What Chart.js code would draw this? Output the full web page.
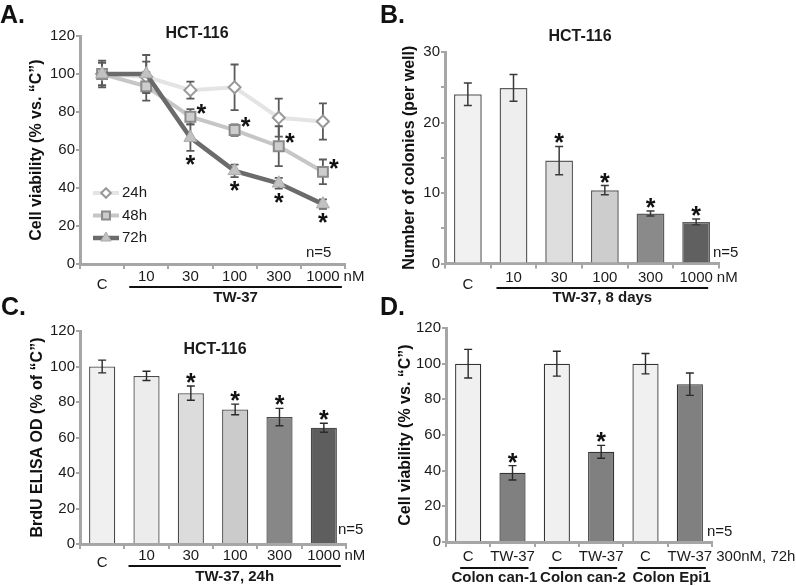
<!DOCTYPE html>
<html>
<head>
<meta charset="utf-8">
<script src="https://cdn.jsdelivr.net/npm/chart.js@4/dist/chart.umd.min.js"></script>
<style>
  body { margin: 0; background: #fff; }
  #fig { position: relative; width: 796px; height: 586px; overflow: hidden; }
  canvas { position: absolute; }
  .tag { position: absolute; font: bold 25px 'Liberation Sans', Arial, sans-serif; line-height: 25px; color: #111; }
</style>
</head>
<body>
<div id="fig">
  <canvas id="chartA" width="400" height="310" style="left:0;top:0"></canvas>
  <canvas id="chartB" width="404" height="310" style="left:392px;top:0"></canvas>
  <canvas id="chartC" width="400" height="296" style="left:0;top:290px"></canvas>
  <canvas id="chartD" width="404" height="296" style="left:392px;top:290px"></canvas>
  <div class="tag" style="left:0;top:2px">A.</div>
  <div class="tag" style="left:380px;top:2px">B.</div>
  <div class="tag" style="left:1px;top:294px">C.</div>
  <div class="tag" style="left:380px;top:294px">D.</div>
</div>
<script>
// dose axis shared by A, B, C
const doseLabels = ["C", "10", "30", "100", "300", "1000"];

// A: cell viability over time
const viab24h = [100, 98.5, 91.5, 93, 77, 75];
const err24h  = [6, 8, 4.5, 12, 10, 9.5];
const viab48h = [100, 93.5, 77.5, 70.5, 62, 48.5];
const err48h  = [7, 7.5, 4, 3, 10.5, 6.5];
const viab72h = [100, 100, 66.5, 49, 42.5, 31.5];
const err72h  = [6, 10, 7, 3.3, 2.8, 2.5];
const sig48h  = [0, 0, 1, 1, 1, 1];
const sig72h  = [0, 0, 1, 1, 1, 1];

// B: colony counts, 8 days
const colonies    = [24, 24.9, 14.6, 10.4, 7.1, 5.9];
const coloniesErr = [1.6, 1.9, 2, 0.65, 0.35, 0.4];
const coloniesSig = [0, 0, 1, 1, 1, 1];

// C: BrdU ELISA, 24h
const brdu    = [100, 94.7, 85, 75.8, 71.5, 65.5];
const brduErr = [3.6, 2.6, 4, 3, 4.9, 2.5];
const brduSig = [0, 0, 1, 1, 1, 1];

// D: 300nM, 72h in three cell lines
const lineLabels = ["C", "TW-37", "C", "TW-37", "C", "TW-37"];
const cellLines  = ["Colon can-1", "Colon can-2", "Colon Epi1"];
const viab300    = [100, 38.8, 100, 50.6, 100, 88.5];
const viab300Err = [8, 4, 7, 3.6, 5.7, 6.3];
const viab300Sig = [0, 1, 0, 1, 0, 0];

const FONT = "'Liberation Sans', Arial, sans-serif";
Chart.defaults.font.family = FONT;
Chart.defaults.color = "#1a1a1a";
Chart.defaults.animation = false;

function drawStar(ctx, cx, cy) {
    ctx.font = "bold 25px " + FONT;
    ctx.textAlign = "center";
    ctx.textBaseline = "alphabetic";
    const m = ctx.measureText("*");
    ctx.fillText("*", cx, cy + (m.actualBoundingBoxAscent - m.actualBoundingBoxDescent) / 2);
}

// error bars + significance stars, read from dataset.errors / dataset.sig
function errorLayer(chart, o) {
    const {ctx} = chart;
    const y = chart.scales.y;
    ctx.save();
    chart.data.datasets.forEach((ds, di) => {
        if (!ds.errors) return;
        const meta = chart.getDatasetMeta(di);
        meta.data.forEach((el, i) => {
            const v = ds.data[i], e = ds.errors[i];
            const top = y.getPixelForValue(v + e);
            const bot = y.getPixelForValue(v - e);
            ctx.strokeStyle = o.color;
            ctx.lineWidth = o.width;
            ctx.beginPath();
            ctx.moveTo(el.x, top); ctx.lineTo(el.x, bot);
            ctx.moveTo(el.x - o.cap, top); ctx.lineTo(el.x + o.cap, top);
            ctx.moveTo(el.x - o.cap, bot); ctx.lineTo(el.x + o.cap, bot);
            ctx.stroke();
        });
    });
    ctx.restore();
}

function starLayer(chart) {
    const {ctx} = chart;
    const y = chart.scales.y;
    ctx.save();
    ctx.fillStyle = "#111";
    chart.data.datasets.forEach((ds, di) => {
        if (!ds.sig) return;
        const meta = chart.getDatasetMeta(di);
        meta.data.forEach((el, i) => {
            if (!ds.sig[i]) return;
            const v = ds.data[i], e = ds.errors[i];
            if (ds.starPos === "right") {
                drawStar(ctx, el.x + 11, el.y - 8);
            } else if (ds.starPos === "below") {
                drawStar(ctx, el.x, y.getPixelForValue(v - e) + 9);
            } else {
                drawStar(ctx, el.x, y.getPixelForValue(v + e) - 8);
            }
        });
    });
    ctx.restore();
}

const errorBars = {
    id: "errorBars",
    beforeDatasetsDraw(chart, args, o) {
        if (o.behind) errorLayer(chart, o);
    },
    afterDatasetsDraw(chart, args, o) {
        if (!o.behind) errorLayer(chart, o);
        starLayer(chart);
    }
};

const panelText = {
    id: "panelText",
    afterDraw(chart, args, o) {
        const {ctx, chartArea: area} = chart;
        const x = chart.scales.x;
        const labels = chart.data.labels;
        ctx.save();
        ctx.fillStyle = "#1a1a1a";
        ctx.textBaseline = "middle";

        ctx.font = "15px " + FONT;
        ctx.textAlign = "center";
        labels.forEach((lab, i) => {
            const low = (o.lowLabels || []).includes(lab);
            ctx.fillText(lab, x.getPixelForValue(i), area.bottom + (low ? o.lowY : o.labelY));
        });
        if (o.suffix) {
            const last = labels.length - 1;
            const w = ctx.measureText(labels[last]).width;
            ctx.textAlign = "left";
            ctx.fillText(o.suffix, x.getPixelForValue(last) + w / 2 + 4, area.bottom + o.labelY);
        }

        (o.brackets || []).forEach(b => {
            const x0 = x.getPixelForValue(b.from) + b.dx0;
            const x1 = x.getPixelForValue(b.to) + b.dx1;
            ctx.strokeStyle = "#111";
            ctx.lineWidth = 2;
            ctx.beginPath();
            ctx.moveTo(x0, area.bottom + b.y);
            ctx.lineTo(x1, area.bottom + b.y);
            ctx.stroke();
            ctx.font = "bold 15px " + FONT;
            ctx.textAlign = "center";
            ctx.fillText(b.text, (x0 + x1) / 2, area.bottom + b.textY);
        });

        if (o.title) {
            ctx.font = "bold 16px " + FONT;
            ctx.textAlign = "center";
            ctx.fillText(o.title.text, o.title.x, o.title.y);
        }
        if (o.note) {
            ctx.font = "15px " + FONT;
            ctx.textAlign = "left";
            ctx.fillText(o.note.text, o.note.x, o.note.y);
        }

        if (o.legend) {
            const lg = o.legend;
            chart.data.datasets.forEach((ds, i) => {
                const yy = lg.y + i * lg.gap;
                ctx.strokeStyle = ds.borderColor;
                ctx.lineWidth = ds.borderWidth;
                ctx.beginPath();
                ctx.moveTo(lg.x, yy);
                ctx.lineTo(lg.x + lg.len, yy);
                ctx.stroke();
                ctx.fillStyle = ds.pointBackgroundColor;
                ctx.strokeStyle = ds.pointBorderColor;
                ctx.lineWidth = ds.pointBorderWidth;
                Chart.helpers.drawPoint(ctx, {
                    pointStyle: ds.pointStyle,
                    radius: ds.pointRadius * 0.8,
                    rotation: 0,
                    borderWidth: ds.pointBorderWidth
                }, lg.x + lg.len / 2, yy);
                ctx.fillStyle = "#1a1a1a";
                ctx.font = "15px " + FONT;
                ctx.textAlign = "left";
                ctx.fillText(ds.label, lg.x + lg.len + 3, yy);
            });
        }
        ctx.restore();
    }
};

const AXIS = "#a6a6a6";

function yAxis(max, step, every, title, width, tickLen) {
    return {
        min: 0,
        max: max,
        afterFit(s) { s.width = width; },
        ticks: {
            stepSize: step,
            padding: 1,
            font: {size: 15},
            color: "#1a1a1a",
            callback: v => (v % every === 0 ? v : "")
        },
        grid: {drawOnChartArea: false, color: AXIS, lineWidth: 2, tickLength: tickLen},
        border: {color: AXIS, width: 3},
        title: {display: true, text: title, padding: 0, color: "#111", font: {size: 16, weight: "bold"}}
    };
}

function xAxis() {
    return {
        offset: true,
        afterFit(s) { s.height = 10; },
        ticks: {display: false},
        grid: {offset: true, drawOnChartArea: false, color: AXIS, lineWidth: 2, tickLength: 5},
        border: {color: AXIS, width: 3}
    };
}

// A
new Chart(document.getElementById("chartA"), {
    type: "line",
    data: {
        labels: doseLabels,
        datasets: [
            {
                label: "24h", data: viab24h, errors: err24h, order: 2,
                borderColor: "#e4e4e4", borderWidth: 4,
                pointStyle: "rectRot", pointRadius: 6,
                pointBackgroundColor: "#ffffff", pointBorderColor: "#999999", pointBorderWidth: 2
            },
            {
                label: "48h", data: viab48h, errors: err48h, sig: sig48h, starPos: "right", order: 1,
                borderColor: "#c6c6c6", borderWidth: 4,
                pointStyle: "rect", pointRadius: 7,
                pointBackgroundColor: "#cdcdcd", pointBorderColor: "#8a8a8a", pointBorderWidth: 2
            },
            {
                label: "72h", data: viab72h, errors: err72h, sig: sig72h, starPos: "below", order: 0,
                borderColor: "#6b6b6b", borderWidth: 4.5,
                pointStyle: "triangle", pointRadius: 7.5,
                pointBackgroundColor: "#c2c2c2", pointBorderColor: "#aaaaaa", pointBorderWidth: 1
            }
        ]
    },
    options: {
        responsive: false,
        layout: {padding: {left: 27.4, right: 55, top: 36, bottom: 36}},
        scales: {
            x: xAxis(),
            y: yAxis(120, 20, 20, "Cell viability (% vs. \u201cC\u201d)", 52.6, 4)
        },
        plugins: {
            legend: {display: false},
            tooltip: {enabled: false},
            errorBars: {behind: true, color: "#5a5a5a", width: 1.8, cap: 4},
            panelText: {
                labelY: 13, lowLabels: ["C"], lowY: 21, suffix: "nM",
                brackets: [{from: 1, to: 5, dx0: -17, dx1: 19, y: 23, text: "TW-37", textY: 34}],
                title: {text: "HCT-116", x: 197, y: 34},
                note: {text: "n=5", x: 306, y: 253},
                legend: {x: 93, y: 193, gap: 22.5, len: 26}
            }
        }
    },
    plugins: [errorBars, panelText]
});

// B
new Chart(document.getElementById("chartB"), {
    type: "bar",
    data: {
        labels: doseLabels,
        datasets: [{
            data: colonies, errors: coloniesErr, sig: coloniesSig,
            backgroundColor: ["#f1f1f1", "#eeeeee", "#dedede", "#cdcdcd", "#8a8a8a", "#606060"],
            borderColor: "#5e5e5e", borderWidth: 1.5,
            barPercentage: 0.61, categoryPercentage: 1
        }]
    },
    options: {
        responsive: false,
        layout: {padding: {left: 8.4, right: 77, top: 52, bottom: 36.5}},
        scales: {
            x: xAxis(),
            y: yAxis(30, 5, 10, "Number of colonies (per well)", 44.6, 4)
        },
        plugins: {
            legend: {display: false},
            tooltip: {enabled: false},
            errorBars: {behind: false, color: "#3a3a3a", width: 1.5, cap: 4},
            panelText: {
                labelY: 14, lowLabels: ["C"], lowY: 21.5, suffix: "nM",
                brackets: [{from: 1, to: 5, dx0: -17, dx1: 12, y: 24.5, text: "TW-37, 8 days", textY: 34}],
                title: {text: "HCT-116", x: 188, y: 37},
                note: {text: "n=5", x: 321, y: 253}
            }
        }
    },
    plugins: [errorBars, panelText]
});

// C
new Chart(document.getElementById("chartC"), {
    type: "bar",
    data: {
        labels: doseLabels,
        datasets: [{
            data: brdu, errors: brduErr, sig: brduSig,
            backgroundColor: ["#f0f0f0", "#ececec", "#dcdcdc", "#cbcbcb", "#878787", "#5e5e5e"],
            borderColor: "#4a4a4a", borderWidth: 1.3,
            barPercentage: 0.59, categoryPercentage: 1
        }]
    },
    options: {
        responsive: false,
        layout: {padding: {left: 28.4, right: 54, top: 41, bottom: 32}},
        scales: {
            x: xAxis(),
            y: yAxis(120, 20, 20, "BrdU ELISA OD (% of \u201cC\u201d)", 51.6, 4)
        },
        plugins: {
            legend: {display: false},
            tooltip: {enabled: false},
            errorBars: {behind: false, color: "#2a2a2a", width: 1.4, cap: 4},
            panelText: {
                labelY: 12, lowLabels: ["C"], lowY: 19, suffix: "nM",
                brackets: [{from: 1, to: 5, dx0: -18, dx1: 17, y: 22, text: "TW-37, 24h", textY: 33}],
                title: {text: "HCT-116", x: 215, y: 60},
                note: {text: "n=5", x: 338, y: 240}
            }
        }
    },
    plugins: [errorBars, panelText]
});

// D
new Chart(document.getElementById("chartD"), {
    type: "bar",
    data: {
        labels: lineLabels,
        datasets: [{
            data: viab300, errors: viab300Err, sig: viab300Sig,
            backgroundColor: ["#f0f0f0", "#808080", "#f0f0f0", "#808080", "#f0f0f0", "#808080"],
            borderColor: "#333333", borderWidth: 1.3,
            barPercentage: 0.59, categoryPercentage: 1
        }]
    },
    options: {
        responsive: false,
        layout: {padding: {left: 4.4, right: 84, top: 38, bottom: 34}},
        scales: {
            x: xAxis(),
            y: yAxis(120, 20, 20, "Cell viability (% vs. \u201cC\u201d)", 49.6, 4)
        },
        plugins: {
            legend: {display: false},
            tooltip: {enabled: false},
            errorBars: {behind: false, color: "#2a2a2a", width: 1.4, cap: 4},
            panelText: {
                labelY: 15, lowY: 15, suffix: "300nM, 72h",
                brackets: cellLines.map((name, g) => ({
                    from: 2 * g, to: 2 * g + 1, dx0: -8, dx1: 16, y: 26, text: name, textY: 36
                })),
                note: {text: "n=5", x: 315, y: 242}
            }
        }
    },
    plugins: [errorBars, panelText]
});
</script>
</body>
</html>
